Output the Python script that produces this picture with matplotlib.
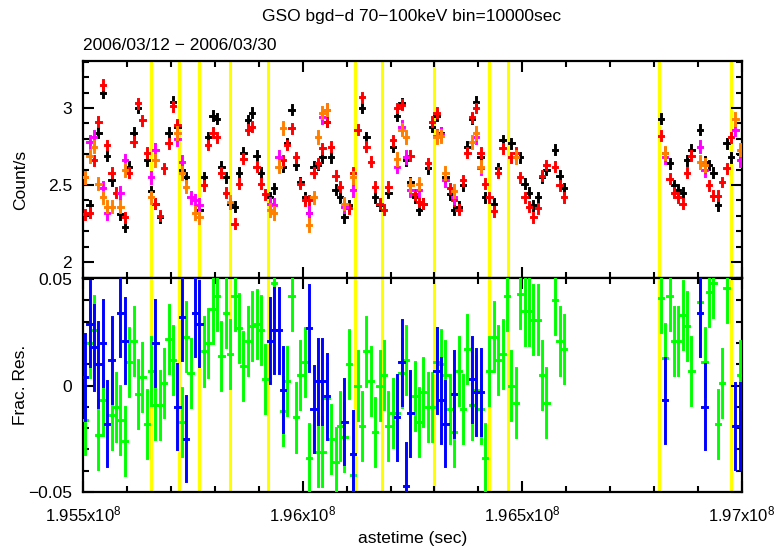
import matplotlib
matplotlib.use("Agg")
import matplotlib.pyplot as plt
from matplotlib.ticker import MultipleLocator, FuncFormatter

plt.rcParams['font.family'] = ['Liberation Sans', 'DejaVu Sans']
plt.rcParams['mathtext.fontset'] = 'custom'
plt.rcParams['mathtext.rm'] = 'Liberation Sans'
plt.rcParams['mathtext.it'] = 'Liberation Sans:italic'

# ---- light-curve binning -------------------------------------------------
T_START = 1.955e8      # astetime of bin 0 (sec)
BIN = 10000.0          # bin width (sec)

# ---- count rates (bin index, counts/s) -----------------------------------
black_bin = [1, 3, 4, 5, 6, 8, 9, 10, 11, 12, 14, 15, 16, 17, 19, 20, 21, 22, 23,
             26, 27, 28, 29, 30, 31, 32, 33, 34, 35, 36, 37, 38, 39, 40, 42, 43,
             45, 46, 47, 48, 49, 50, 51, 52, 53, 54, 55, 56, 57, 58, 59, 60, 63,
             64, 66, 67, 69, 70, 71, 72, 73, 74, 75, 76, 77, 78, 79, 80, 81, 82,
             83, 84, 85, 86, 87, 88, 89, 90, 91, 93, 94, 95, 97, 99, 100, 101,
             102, 103, 104, 105, 107, 108, 109,
             131, 132, 133, 134, 135, 136, 137, 138, 140, 141, 142, 143, 144,
             146, 147, 149]
black_rate = [2.37, 2.84, 3.10, 2.69, 2.53, 2.31, 2.23, 2.62, 2.84, 3.00, 2.66,
              2.46, 2.38, 2.29, 2.84, 3.04, 2.88, 2.60, 2.55,
              2.34, 2.55, 2.81, 2.95, 2.93, 2.62, 2.55, 2.38, 2.36, 2.58, 2.71,
              2.92, 2.97, 2.69, 2.58, 2.42, 2.48,
              2.62, 2.77, 2.99, 2.63, 2.52, 2.42, 2.32, 2.62, 2.63, 2.68, 2.91,
              2.68, 2.47, 2.42, 2.29, 2.37, 3.00,
              2.81, 2.42, 2.37, 2.45, 2.75, 2.95, 3.03, 2.66, 2.52, 2.42, 2.34,
              2.38, 2.61, 2.88, 2.95, 2.84, 2.55,
              2.44, 2.34, 2.36, 2.50, 2.75, 2.93, 3.04, 2.68, 2.42, 2.38, 2.61,
              2.79, 2.77, 2.68, 2.51, 2.45,
              2.37, 2.42, 2.55, 2.60, 2.73, 2.56, 2.48,
              2.93, 2.71, 2.64, 2.50, 2.47, 2.45, 2.66, 2.73, 2.86, 2.65, 2.63,
              2.58, 2.37, 2.77, 2.68, 2.70]

red_bin = [0, 1, 2, 3, 4, 5, 6, 7, 9, 10, 11, 12, 13, 14, 16, 17, 18, 19, 20, 21,
           27, 28, 29, 30, 31, 32, 34, 35, 36, 37, 38, 39, 40, 41,
           45, 46, 47, 48, 49, 50, 51, 52, 53, 54, 55, 56, 57, 58, 60, 61, 62,
           63, 64, 65, 66, 67, 68, 69, 70, 71, 72, 74, 75, 76, 77, 78, 79, 80,
           83, 84, 85, 86, 87, 88, 89, 90, 91, 92, 93, 94, 95, 97, 98, 99, 100,
           101, 102, 103, 104, 105, 107, 108, 109,
           131, 133, 134, 135, 136, 137, 138, 142, 143, 144, 145, 146, 147]
red_rate = [2.31, 2.32, 2.66, 2.91, 3.15, 2.76, 2.58, 2.45, 2.29, 2.58, 2.78,
            3.03, 2.92, 2.71, 2.38, 2.30, 2.61, 2.77, 3.01, 2.89,
            2.50, 2.76, 2.84, 2.81, 2.58, 2.45, 2.25, 2.51, 2.67, 2.86, 2.88,
            2.62, 2.51, 2.44,
            2.66, 2.76, 2.87, 2.68, 2.51, 2.40, 2.40, 2.58, 2.64, 2.74, 2.91,
            2.75, 2.56, 2.49, 2.35, 2.58, 2.86,
            3.07, 2.75, 2.65, 2.49, 2.38, 2.34, 2.49, 2.79, 3.00, 3.02, 2.69,
            2.44, 2.39, 2.38, 2.64, 2.91, 2.97,
            2.48, 2.40, 2.34, 2.53, 2.71, 2.94, 3.00, 2.71, 2.51, 2.42, 2.33,
            2.58, 2.74, 2.68, 2.71, 2.55, 2.42,
            2.36, 2.29, 2.35, 2.56, 2.63, 2.62, 2.50, 2.42,
            2.82, 2.54, 2.45, 2.42, 2.38, 2.58, 2.69, 2.50, 2.43, 2.43, 2.52,
            2.61, 2.81]

magenta_bin = [0, 1, 2, 4, 5, 8, 9, 15, 16, 21, 22, 24, 25, 26, 42, 43, 44, 51,
               54, 55, 59, 61, 71, 72, 73, 74, 76, 80, 81, 82, 84, 89, 90,
               132, 140, 141, 148, 149]
magenta_rate = [2.55, 2.78, 2.81, 2.48, 2.32, 2.45, 2.66, 2.55, 2.73, 2.80,
                2.65, 2.42, 2.40, 2.37, 2.38, 2.37, 2.68, 2.32,
                2.94, 2.99, 2.36, 2.47, 2.62, 2.88, 2.68, 2.47, 2.47, 2.82,
                2.83, 2.53, 2.42, 2.81, 2.61,
                2.68, 2.75, 2.60, 2.86, 2.66]

orange_bin = [0, 1, 2, 3, 4, 5, 6, 8, 9, 15, 16, 21, 22, 23, 25, 26, 33, 42, 43,
              44, 45, 51, 52, 53, 54, 55, 59, 61, 71, 72, 73, 74, 76, 80, 81,
              82, 84, 88, 89, 90, 98,
              132, 140, 141, 148, 149]
orange_rate = [2.55, 2.69, 2.75, 2.51, 2.42, 2.36, 2.36, 2.36, 2.60, 2.42,
               2.66, 2.84, 2.58, 2.49, 2.32, 2.29, 2.39, 2.34, 2.32,
               2.62, 2.87, 2.24, 2.42, 2.81, 2.97, 2.99, 2.38, 2.55, 2.67,
               2.86, 2.81, 2.50, 2.51, 2.81, 2.82,
               2.58, 2.46, 2.78, 2.84, 2.62, 2.68,
               2.71, 2.65, 2.63, 2.93, 2.73]

# ---- fractional residuals (bin index, value) -----------------------------
green_bin = [0, 1, 2, 3, 4, 6, 7, 8, 9, 10, 11, 12, 13, 14, 15, 16, 17, 18, 19,
             20, 22, 23, 24, 27, 28, 29, 30, 31, 32, 33, 34, 35, 36, 37, 38, 39,
             40, 41, 43, 45, 46, 47, 48, 49, 50, 51, 53, 54, 55, 56, 57, 58, 59,
             60, 61, 62, 63, 64, 65, 66, 67, 68, 69, 70, 71, 72, 73, 75, 76, 77,
             78, 79, 80, 81, 82, 83, 84, 85, 86, 87, 88, 89, 90, 91, 92, 93, 94,
             95, 96, 97, 98, 99, 100, 101, 102, 103, 104, 105, 107, 108, 109,
             131, 132, 133, 134, 135, 136, 137, 138, 140, 141, 142, 143, 144,
             145, 146, 149]
green_res = [-0.016, 0.020, 0.026, -0.023, -0.007, -0.014, -0.010, -0.016,
             -0.026, 0.011, 0.021, -0.004, 0.004, -0.018, 0.007, -0.009, -0.009,
             0.001, 0.022, 0.012, -0.017, 0.023, 0.006, 0.016, 0.020, 0.036,
             0.042, 0.014, 0.034, 0.015, 0.042, 0.027, 0.009, 0.021, 0.028,
             0.029, 0.026, 0.003, 0.048, -0.012, 0.002, 0.042, -0.015, 0.005,
             0.011, -0.034, -0.031, -0.031, -0.006, -0.025, -0.036, -0.019,
             -0.024, 0.010, -0.042, 0.000, -0.019, 0.016, 0.002, -0.022, 0.000,
             0.005, -0.019, -0.013, -0.013, 0.006, 0.012, -0.005, -0.017,
             -0.003, -0.010, -0.010, 0.011, 0.010, 0.005, -0.011, -0.022, 0.007,
             -0.011, 0.017, -0.009, -0.002, -0.011, -0.034, 0.007, 0.023, 0.012,
             0.015, 0.042, 0.000, -0.008, 0.043, 0.035, 0.035, 0.031, 0.031,
             0.005, -0.008, 0.040, 0.021, 0.017,
             0.041, 0.013, 0.042, 0.021, 0.021, 0.033, 0.028, 0.007, 0.039,
             0.011, 0.044, 0.048, -0.018, 0.001, 0.046, 0.005]

blue_bin = [0, 1, 2, 3, 4, 5, 6, 8, 9, 16, 21, 22, 23, 25, 26, 42, 43, 44, 45,
            51, 52, 53, 54, 55, 59, 61, 71, 72, 73, 74, 80, 81, 82, 84, 88, 89,
            90, 132, 140, 141, 148, 149]
blue_res = [0.004, 0.029, 0.018, 0.010, 0.020, -0.018, 0.012, 0.034, 0.021,
            0.020, -0.010, 0.032, -0.025, 0.034, 0.029, 0.021, 0.026, 0.026,
            -0.002, 0.027, -0.011, 0.002, 0.002, -0.005, -0.017, -0.032,
            -0.015, 0.011, -0.047, -0.013, 0.007, -0.007, -0.018, -0.004,
            0.003, -0.003, -0.003, -0.007, 0.034, -0.010, -0.019, -0.019]

# ---- good-time-interval boundaries (astetime, sec) -----------------------
gti_edges = [195655900, 195717400, 195764000, 195834600, 195921100,
             196119100, 196180500, 196300000, 196424100, 196468400,
             196812100, 196974800]

X_RANGE = (1.955e8, 1.970e8)


def bin_time(bins):
    return [T_START + (b + 0.5) * BIN for b in bins]


def draw_points(ax, bins, vals, color, err, lw):
    cont = ax.errorbar(bin_time(bins), vals, xerr=BIN / 2, yerr=err,
                       fmt='none', ecolor=color, elinewidth=lw, capsize=0,
                       zorder=3)
    for coll in cont.lines[2]:
        coll.set_capstyle('projecting')


fig = plt.figure(figsize=(7.75, 5.46), dpi=100)
ax_top = fig.add_axes([83 / 775, 1 - 278 / 546, 659 / 775, 217 / 546])
ax_bot = fig.add_axes([83 / 775, 1 - 492 / 546, 659 / 775, 214 / 546])

YELLOW = '#ffff00'
for ax in (ax_top, ax_bot):
    for t in gti_edges:
        ax.axvline(t, color=YELLOW, lw=2.2, zorder=1)

ELW = 2.1
rate_series = [
    (black_bin, black_rate, 'black', 0.029),
    (red_bin, red_rate, '#ff0000', 0.029),
    (magenta_bin, magenta_rate, '#ff00ff', 0.038),
    (orange_bin, orange_rate, '#ff8000', 0.038),
]
for bins, vals, col, err in rate_series:
    draw_points(ax_top, bins, vals, col, err, ELW)

res_series = [
    (green_bin, green_res, '#00ff00', 0.016),
    (blue_bin, blue_res, '#0000ff', 0.020),
]
for bins, vals, col, err in res_series:
    draw_points(ax_bot, bins, vals, col, err, ELW)

ax_top.set_ylim(1.897, 3.305)
ax_bot.set_ylim(-0.05, 0.0505)

FS = 12.5
for ax in (ax_top, ax_bot):
    ax.set_xlim(*X_RANGE)
    ax.xaxis.set_major_locator(MultipleLocator(5e5))
    ax.xaxis.set_minor_locator(MultipleLocator(1e5))
    ax.tick_params(which='both', direction='in', top=True, right=True,
                   width=1.5, labelsize=FS)
    ax.tick_params(which='major', length=8)
    ax.tick_params(which='minor', length=4)
    ax.tick_params(axis='y', pad=8)
    ax.tick_params(axis='x', pad=9, labelsize=12)
    for sp in ax.spines.values():
        sp.set_linewidth(1.6)

ax_top.yaxis.set_major_locator(MultipleLocator(0.5))
ax_top.yaxis.set_minor_locator(MultipleLocator(0.1))
ax_top.yaxis.set_major_formatter(FuncFormatter(lambda v, p: f"{v:g}"))
ax_top.tick_params(axis='x', labelbottom=False)

ax_bot.yaxis.set_major_locator(MultipleLocator(0.05))
ax_bot.yaxis.set_minor_locator(MultipleLocator(0.01))
ax_bot.yaxis.set_major_formatter(
    FuncFormatter(lambda v, p: "0" if abs(v) < 1e-9 else f"{v:g}".replace('-', '\u2212')))
ax_bot.xaxis.set_major_formatter(
    FuncFormatter(lambda v, p: f"{v / 1e8:g}x10$^{{8}}$"))

ax_top.set_ylabel('Count/s', fontsize=FS)
ax_bot.set_ylabel('Frac. Res.', fontsize=FS)
ax_top.yaxis.set_label_coords(-0.083, 0.45)
ax_bot.yaxis.set_label_coords(-0.083, 0.5)
ax_bot.set_xlabel('astetime (sec)', fontsize=FS, labelpad=5)

fig.text(412 / 775, 1 - 17 / 546, 'GSO bgd\u2212d 70\u2212100keV bin=10000sec',
         ha='center', va='center', fontsize=FS)
fig.text(83 / 775, 1 - 45 / 546, '2006/03/12 \u2212 2006/03/30',
         ha='left', va='center', fontsize=FS)

fig.savefig('out.png', dpi=100)
